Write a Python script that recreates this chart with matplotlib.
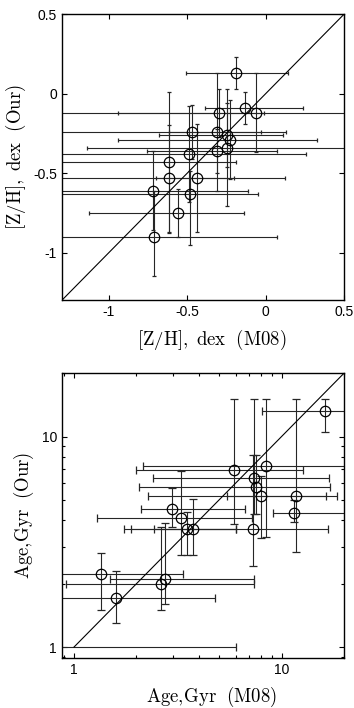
import matplotlib
matplotlib.use('Agg')
import matplotlib.pyplot as plt
from matplotlib.ticker import FixedLocator, FuncFormatter, NullFormatter, LogLocator
import numpy as np

plt.rcParams['mathtext.fontset'] = 'cm'
plt.rcParams['font.family'] = ['Liberation Sans', 'DejaVu Sans']

# --- [Z/H] panel: value, lower bound, upper bound (dex)
zh_m08 = [-0.19, -0.13, -0.06, -0.30, -0.47, -0.31, -0.245, -0.23, -0.31,
          -0.25, -0.49, -0.62, -0.62, -0.44, -0.72, -0.48, -0.56, -0.71]
zh_m08_lo = [-0.51, -0.39, -1.40, -0.94, -1.40, -0.62, -0.68, -0.94, -0.76,
             -1.14, -1.40, -1.40, -1.40, -0.70, -1.40, -1.40, -1.13, -1.40]
zh_m08_hi = [0.14, 0.24, 0.60, -0.01, 0.13, -0.03, 0.11, 0.33, 0.07,
             0.60, 0.26, -0.19, 0.12, -0.20, -0.11, -0.05, -0.14, 0.07]
zh_our = [0.128, -0.088, -0.12, -0.12, -0.24, -0.24, -0.26, -0.29, -0.36,
          -0.34, -0.38, -0.43, -0.53, -0.53, -0.61, -0.63, -0.75, -0.90]
zh_our_lo = [0.03, -0.19, -0.37, -0.27, -0.41, -0.61, -0.46, -0.54, -0.50,
             -0.71, -0.68, -0.88, -0.87, -0.87, -0.86, -0.95, -0.90, -1.15]
zh_our_hi = [0.23, 0.01, 0.13, 0.03, -0.07, 0.13, -0.06, -0.04, -0.22,
             0.03, -0.08, 0.01, -0.20, -0.19, -0.36, -0.49, -0.60, -0.61]

# --- Age panel (Gyr)
age_m08 = [16.2, 5.93, 8.44, 7.39, 7.5, 8.0, 11.7, 11.5, 2.97, 3.29, 3.49,
           3.74, 7.31, 1.35, 2.75, 2.62, 1.6, 0.7]
age_m08_lo = [8.07, 2.0, 2.15, 2.41, 2.06, 2.28, 5.48, 9.08, 2.11, 1.29, 2.42,
              1.88, 1.74, 0.5, 1.49, 0.92, 0.5, 0.5]
age_m08_hi = [25, 12.7, 25, 16.9, 17.2, 18.4, 16.3, 25, 6.64, 7.2, 6.0,
              6.0, 16.7, 3.34, 7.33, 7.33, 4.8, 6.0]
age_our = [13.2, 6.92, 7.23, 6.32, 5.73, 5.21, 5.21, 4.32, 4.51, 4.11, 3.62,
           3.62, 3.62, 2.22, 2.11, 2.0, 1.71, 1.0]
age_our_lo = [10.5, 3.83, 3.34, 4.3, 4.3, 3.31, 2.82, 3.91, 3.73, 2.74, 2.74,
              2.74, 2.43, 1.5, 1.6, 1.5, 1.3, 1.0]
age_our_hi = [15.1, 15.1, 15.1, 15.1, 8.2, 6.5, 15.1, 5.0, 5.71, 6.85, 4.4,
              5.03, 8.2, 2.81, 3.9, 3.7, 2.31, 1.0]


def errs(v, lo, hi):
    v, lo, hi = np.array(v), np.array(lo), np.array(hi)
    return [v - lo, hi - v]


fig = plt.figure(figsize=(3.54, 7.08), dpi=100)

# top panel
ax1 = fig.add_axes([0.175, 0.576, 0.797, 0.404])
ax1.errorbar(zh_m08, zh_our,
             xerr=errs(zh_m08, zh_m08_lo, zh_m08_hi),
             yerr=errs(zh_our, zh_our_lo, zh_our_hi),
             fmt='o', mfc='none', mec='k', mew=0.9, ms=7.5,
             ecolor='0.15', elinewidth=0.8, capsize=1.2, capthick=0.8)
ax1.plot([-1.3, 0.5], [-1.3, 0.5], 'k-', lw=0.8)
ax1.set_xlim(-1.3, 0.5)
ax1.set_ylim(-1.3, 0.5)
ax1.xaxis.set_major_locator(FixedLocator([-1, -0.5, 0, 0.5]))
ax1.yaxis.set_major_locator(FixedLocator([-1, -0.5, 0, 0.5]))
ax1.xaxis.set_major_formatter(FuncFormatter(lambda v, p: '%g' % v if v != 0 else '0'))
ax1.yaxis.set_major_formatter(FuncFormatter(lambda v, p: '%g' % v if v != 0 else '0'))
ax1.set_xlabel(r'$\mathrm{[Z/H],\ dex\ \ (M08)}$', fontsize=13.5)
ax1.set_ylabel(r'$\mathrm{[Z/H],\ dex\ \ (Our)}$', fontsize=13.5)
ax1.xaxis.set_label_coords(0.53, -0.095)

# bottom panel
ax2 = fig.add_axes([0.175, 0.071, 0.797, 0.402])
ax2.errorbar(age_m08, age_our,
             xerr=errs(age_m08, age_m08_lo, age_m08_hi),
             yerr=errs(age_our, age_our_lo, age_our_hi),
             fmt='o', mfc='none', mec='k', mew=0.9, ms=7.5,
             ecolor='0.15', elinewidth=0.8, capsize=2.8, capthick=0.8)
ax2.plot([1, 20], [1, 20], 'k-', lw=0.8)
ax2.set_xscale('log')
ax2.set_yscale('log')
ax2.set_xlim(0.875, 20)
ax2.set_ylim(0.89, 20)
for axis in (ax2.xaxis, ax2.yaxis):
    axis.set_major_locator(FixedLocator([1, 10]))
    axis.set_major_formatter(FuncFormatter(lambda v, p: '%d' % round(v)))
    axis.set_minor_locator(LogLocator(base=10, subs=np.arange(2, 10)))
    axis.set_minor_formatter(NullFormatter())
ax2.set_xlabel(r'$\mathrm{Age,\!Gyr\ \ (M08)}$', fontsize=13.5)
ax2.set_ylabel(r'$\mathrm{Age,\!Gyr\ \ (Our)}$', fontsize=13.5)
ax2.xaxis.set_label_coords(0.53, -0.095)

for ax in (ax1, ax2):
    ax.tick_params(which='both', direction='in', top=True, right=True,
                   labelsize=10, width=0.8)
    ax.tick_params(which='major', length=3.5)
    ax.tick_params(which='minor', length=2)
    for s in ax.spines.values():
        s.set_linewidth(1.0)

fig.savefig('out.png', dpi=100)
plt.close(fig)
